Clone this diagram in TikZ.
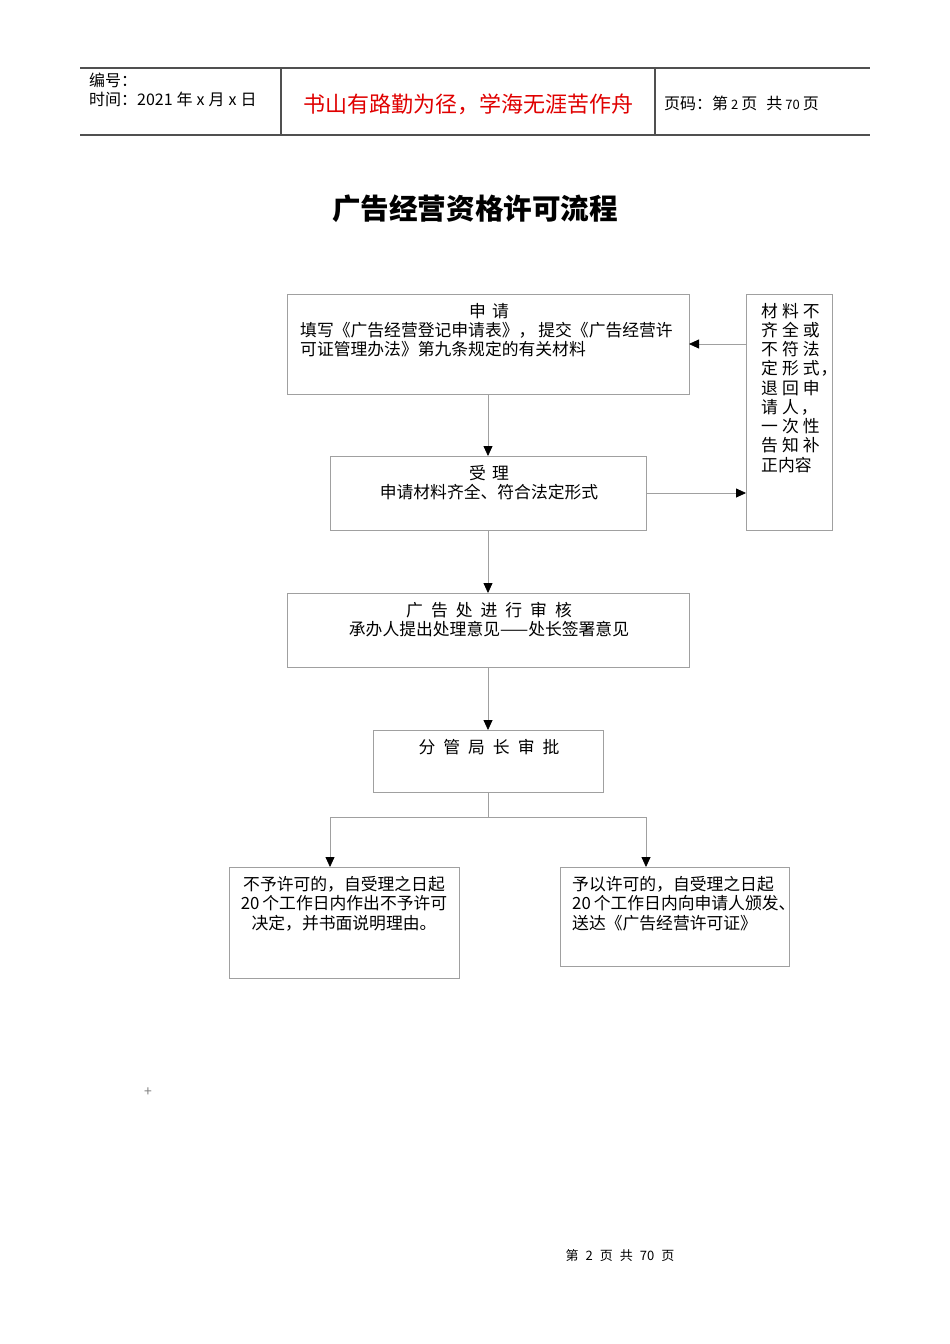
\documentclass[tikz,border=0pt]{standalone}
\usepackage{fontspec}
\setmainfont{Noto Sans CJK SC}
\usetikzlibrary{arrows.meta,calc}
\definecolor{boxgray}{HTML}{A0A0A0}
\definecolor{linegray}{HTML}{A0A0A0}
\definecolor{hdrgray}{HTML}{505050}
\definecolor{mottored}{HTML}{E00000}
\begin{document}
\begin{tikzpicture}[x=1pt,y=-1pt,
  box/.style={draw=boxgray,line width=0.8pt,inner sep=0pt,outer sep=0pt,rectangle},
  conn/.style={draw=linegray,line width=0.8pt},
  arr/.style={conn,-{Triangle[length=10pt,width=9pt,color=black,fill=black]}},
  txt/.style={inner sep=0pt,font=\fontsize{16.8}{19.3}\selectfont},
  hdr/.style={draw=hdrgray,line width=1.1pt},
  htxt/.style={inner sep=0pt,anchor=west,font=\fontsize{16}{18}\selectfont}]
\fill[white] (0,0) rectangle (950,1344);
\useasboundingbox (0,0) rectangle (950,1344);

% header
\draw[hdr] (80,68) -- (870,68);
\draw[hdr] (80,135) -- (870,135);
\draw[hdr] (281,68) -- (281,135);
\draw[hdr] (655,68) -- (655,135);
\node[htxt] (h1) at (89,80) {编号：};
\node[htxt] (h2) at (89,99) {时间：2021\kern4pt 年\kern4pt x\kern4pt 月\kern4pt x\kern4pt 日};
\node[inner sep=0pt,text=mottored,font=\fontsize{22}{24}\selectfont] (motto) at (468,104) {书山有路勤为径，学海无涯苦作舟};
\node[htxt] (h3) at (664,103) {页码：第{\fontsize{13}{13}\selectfont\kern3pt 2\kern3pt}页\kern9pt 共{\fontsize{13}{13}\selectfont\kern3pt 70\kern3pt}页};

% title
\node[inner sep=0pt,font=\bfseries\fontsize{28.6}{30}\selectfont] (title) at (475,209) {广告经营资格许可流程};

% boxes
\node[box,minimum width=402pt,minimum height=100pt] (sq) at (488,344) {};
\node[box,minimum width=316pt,minimum height=74pt] (sl) at (488,493) {};
\node[box,minimum width=402pt,minimum height=74pt] (sh) at (488,630) {};
\node[box,minimum width=230pt,minimum height=62pt] (sp) at (488,761) {};
\node[box,minimum width=86pt,minimum height=236pt] (rb) at (789,412) {};
\node[box,minimum width=230pt,minimum height=111pt] (nb) at (344,922.5) {};
\node[box,minimum width=229pt,minimum height=99pt] (yb) at (674.5,916.5) {};

% box texts
\node[txt] (sqa) at (489,311) {申\kern6pt 请};
\node[txt,anchor=west,align=left] (sqb) at (300,339.5) {填写《广告经营登记申请表》，\kern3pt 提交《广告经营许\\可证管理办法》第九条规定的有关材料};
\node[txt] (sla) at (489,473) {受\kern6pt 理};
\node[txt] (slb) at (489,492) {申请材料齐全、符合法定形式};
\node[txt] (sha) at (489,610) {广\kern8pt 告\kern8pt 处\kern8pt 进\kern8pt 行\kern8pt 审\kern8pt 核};
\node[txt] (shb) at (489,629) {承办人提出处理意见——处长签署意见};
\node[txt] (spa) at (489,747) {分\kern8pt 管\kern8pt 局\kern8pt 长\kern8pt 审\kern8pt 批};
\node[txt,align=center] (nbt) at (344,903.5) {不予许可的，自受理之日起\\20\kern3pt 个工作日内作出不予许可\\决定，并书面说明理由。};
\node[txt,anchor=west,align=left] (ybt) at (572,903.5) {予以许可的，自受理之日起\\20\kern3pt 个工作日内向申请人颁发、\\送达《广告经营许可证》};

% right box text
\node[txt,anchor=west] (r1) at (761,311) {材\kern4pt 料\kern4pt 不};
\node[txt,anchor=west] (r2) at (761,330.2) {齐\kern4pt 全\kern4pt 或};
\node[txt,anchor=west] (r3) at (761,349.4) {不\kern4pt 符\kern4pt 法};
\node[txt,anchor=west] (r4) at (761,368.6) {定\kern4pt 形\kern4pt 式\kern1pt ，};
\node[txt,anchor=west] (r5) at (761,387.8) {退\kern4pt 回\kern4pt 申};
\node[txt,anchor=west] (r6) at (761,407) {请\kern4pt 人\kern2pt ，};
\node[txt,anchor=west] (r7) at (761,426.2) {一\kern4pt 次\kern4pt 性};
\node[txt,anchor=west] (r8) at (761,445.4) {告\kern4pt 知\kern4pt 补};
\node[txt,anchor=west] (r9) at (761,464.6) {正内容};

% connectors
\draw[arr] (sq.south) -- (sl.north);
\draw[arr] (sl.south) -- (sh.north);
\draw[arr] (sh.south) -- (sp.north);
\coordinate (split) at ($(sp.south)+(0,25)$);
\draw[conn] (sp.south) -- (split);
\draw[arr] (split) -| ([xshift=-14pt]nb.north);
\draw[arr] (split) -| ([xshift=-28.5pt]yb.north);
\draw[arr] (sl.east) -- (rb.west |- sl.east);
\draw[arr] (rb.west |- sq.east) -- (sq.east);

% page footer
\node[inner sep=0pt,text=gray,font=\fontsize{14}{14}\selectfont] (plus) at (148,1092) {+};
\node[inner sep=0pt,font=\fontsize{13}{15}\selectfont] (foot) at (620,1256) {第\kern7pt 2\kern7pt 页\kern7pt 共\kern7pt 70\kern7pt 页};
\end{tikzpicture}
\end{document}
